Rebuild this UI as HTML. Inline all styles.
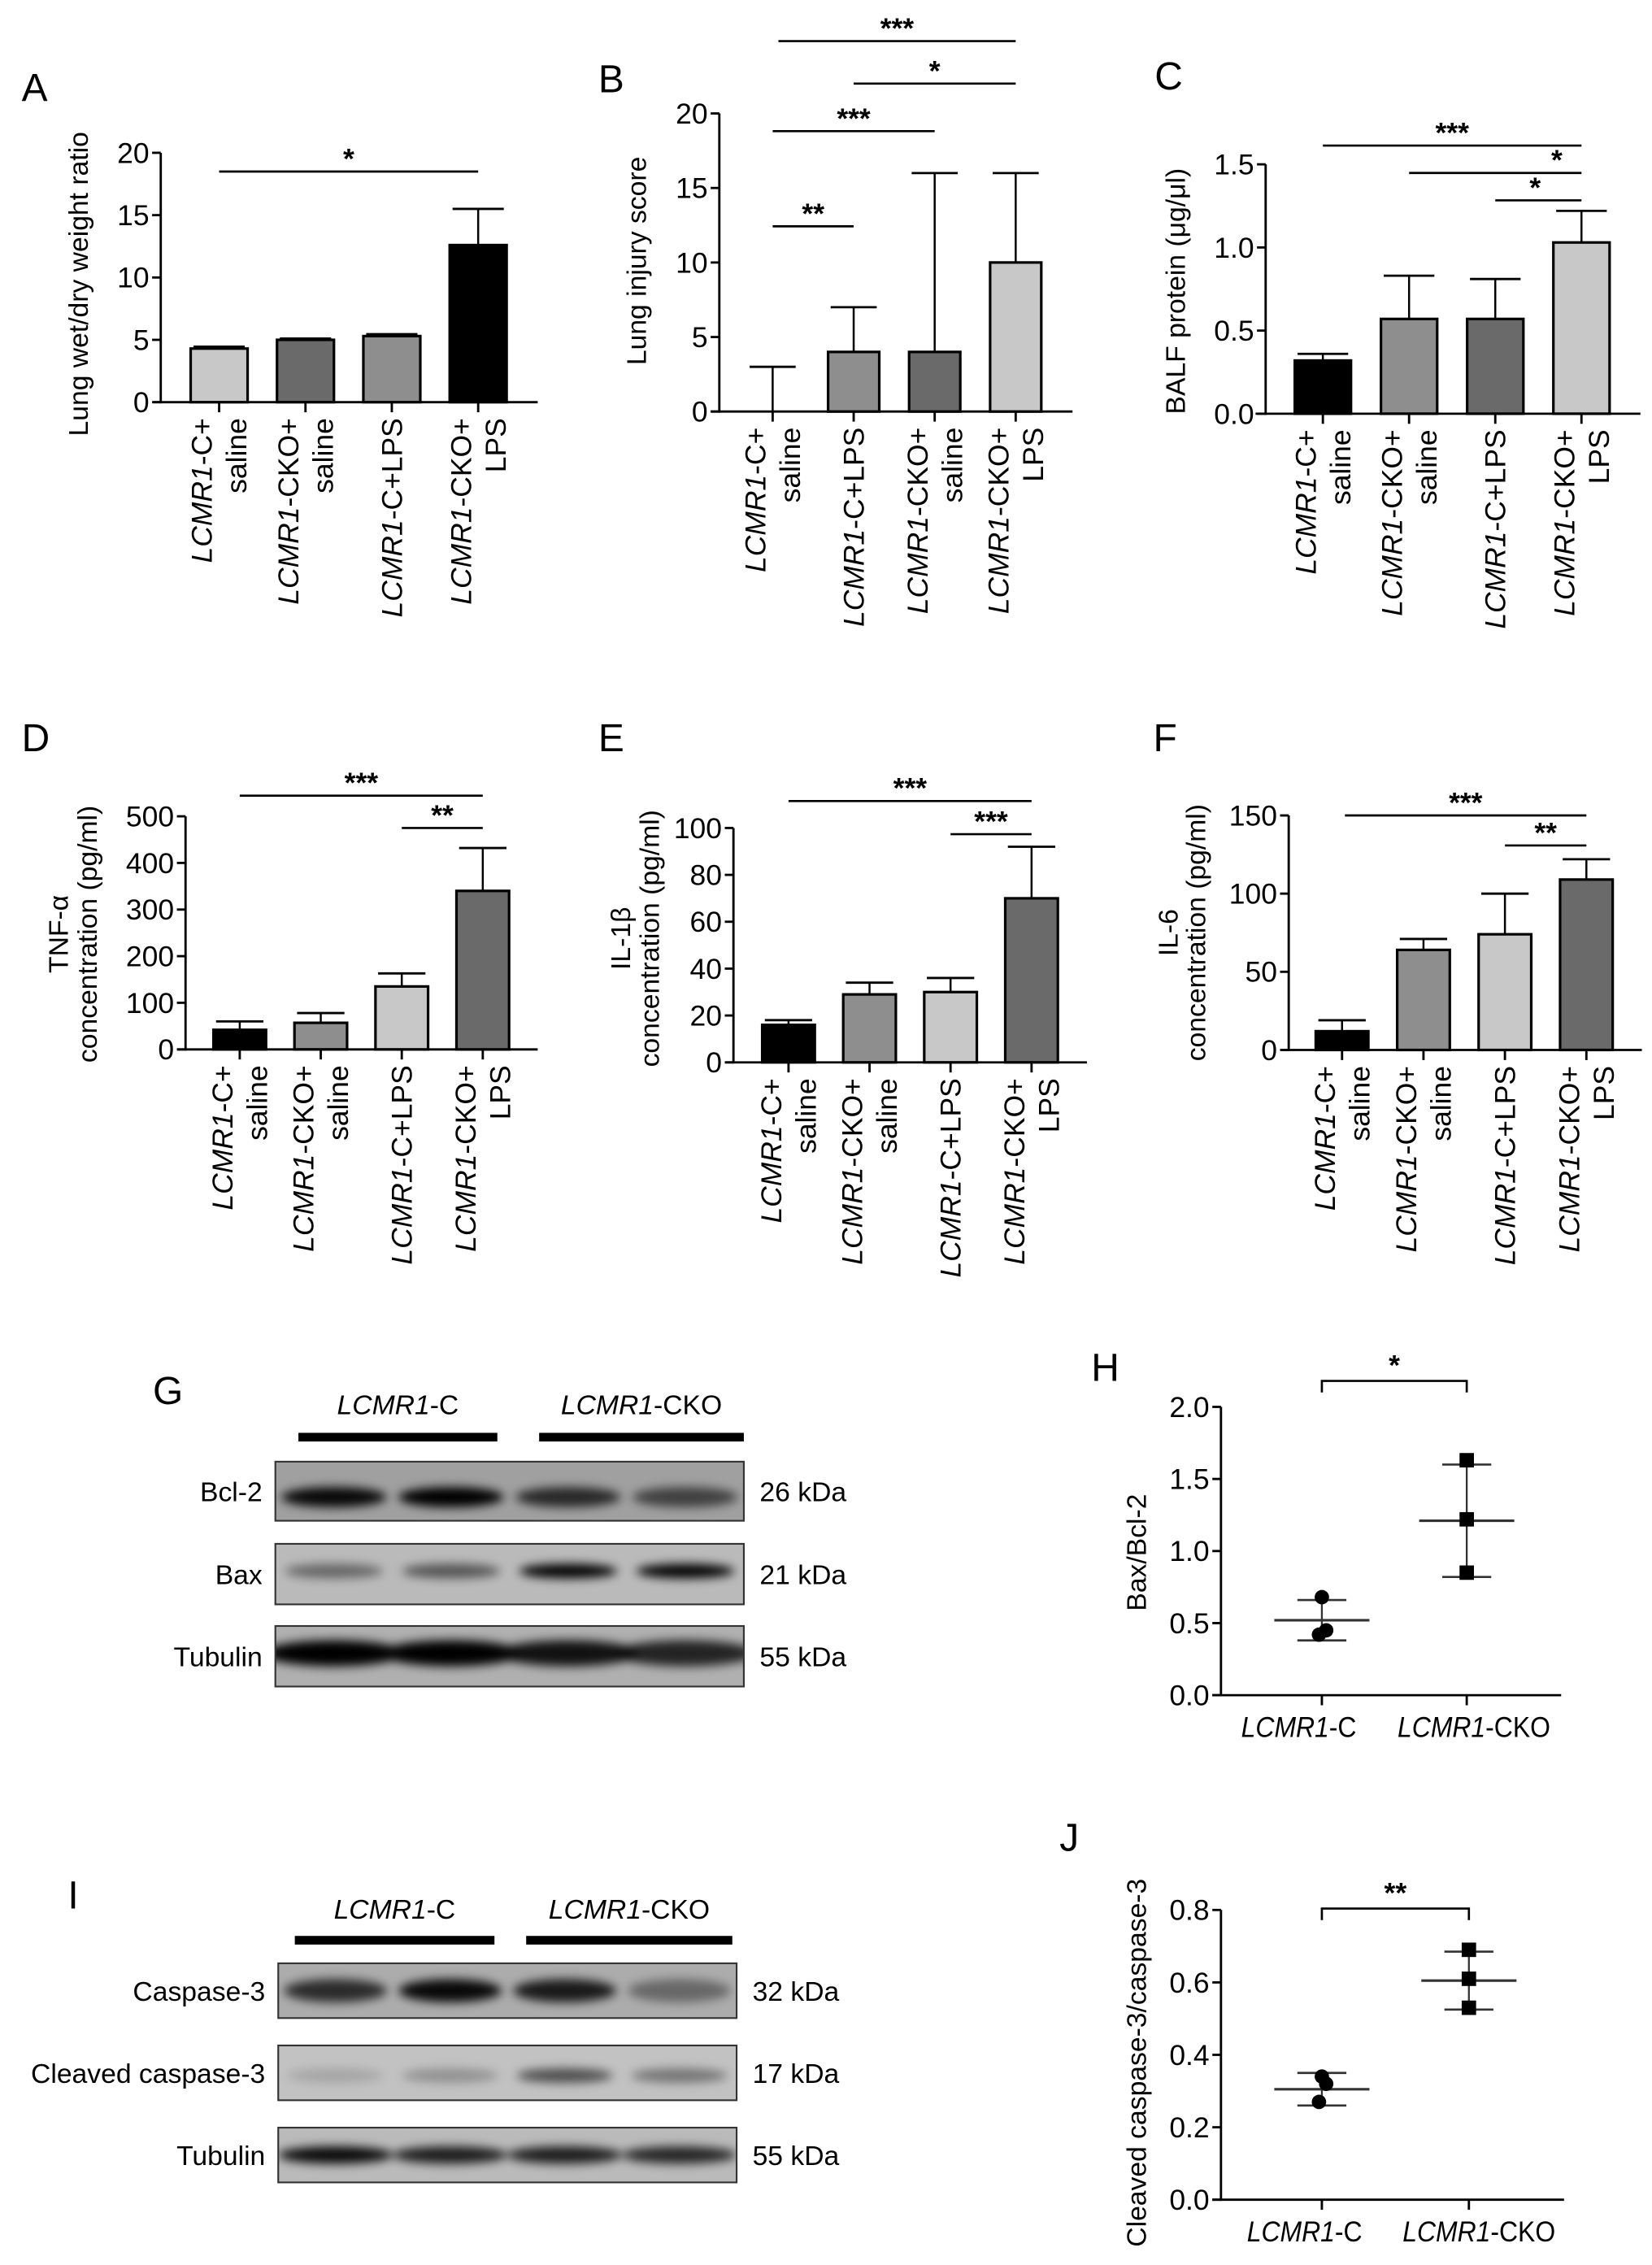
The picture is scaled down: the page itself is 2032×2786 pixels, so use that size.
<!DOCTYPE html>
<html><head><meta charset="utf-8"><style>
html,body{margin:0;padding:0;background:#fff;}
svg{display:block;font-family:"Liberation Sans",Arial,sans-serif;}
</style></head><body>
<svg id="fig" xmlns="http://www.w3.org/2000/svg" width="2032" height="2786" viewBox="0 0 1146 1571.3">
<defs id="defs">
<filter id="blur3" x="-30%" y="-100%" width="160%" height="300%"><feGaussianBlur stdDeviation="3.5"/></filter>
</defs>
<g id="root"></g>
</svg>
<script>
// ---------- data ----------
const catsA = ["C+saline","CKO+saline","C+LPS","CKO+LPS"];
const valsA = [4.3, 5.0, 5.3, 12.6];
const errA  = [4.45, 5.1, 5.45, 15.5];
const ticksA = [0,5,10,15,20];

const catsB = ["C+saline","C+LPS","CKO+saline","CKO+LPS"];
const valsB = [0, 4, 4, 10];
const errB  = [3, 7, 16, 16];
const ticksB = [0,5,10,15,20];

const catsC = ["C+saline","CKO+saline","C+LPS","CKO+LPS"];
const valsC = [0.32, 0.57, 0.57, 1.03];
const errC  = [0.36, 0.83, 0.81, 1.22];
const ticksC = ["0.0","0.5","1.0","1.5"];

const catsD = ["C+saline","CKO+saline","C+LPS","CKO+LPS"];
const valsD = [42, 57, 135, 340];
const errD  = [60, 78, 163, 432];
const ticksD = [0,100,200,300,400,500];

const catsE = ["C+saline","CKO+saline","C+LPS","CKO+LPS"];
const valsE = [16, 29, 30, 70];
const errE  = [18, 34, 36, 92];
const ticksE = [0,20,40,60,80,100];

const catsF = ["C+saline","CKO+saline","C+LPS","CKO+LPS"];
const valsF = [12, 64, 74, 109];
const errF  = [19, 71, 100, 122];
const ticksF = [0,50,100,150];

const groupsH = ["LCMR1-C","LCMR1-CKO"];
const pointsHc = [0.68, 0.45, 0.42];
const pointsHk = [1.63, 1.22, 0.85];
const meanH = [0.52, 1.21];
const sdH = [0.14, 0.39];
const ticksH = ["0.0","0.5","1.0","1.5","2.0"];

const groupsJ = ["LCMR1-C","LCMR1-CKO"];
const pointsJc = [0.34, 0.32, 0.27];
const pointsJk = [0.69, 0.61, 0.53];
const meanJ = [0.305, 0.605];
const sdJ = [0.045, 0.08];
const ticksJ = ["0.0","0.2","0.4","0.6","0.8"];

// ---------- helpers ----------
const NS = "http://www.w3.org/2000/svg";
const root = document.getElementById("root");
const defs = document.getElementById("defs");
const FS = 20, FT = 19;
function el(tag, attrs, parent, text){
  const e = document.createElementNS(NS, tag);
  for (const k in attrs) e.setAttribute(k, attrs[k]);
  if (text !== undefined) e.textContent = text;
  (parent || root).appendChild(e);
  return e;
}
function letter(t, x, y){
  const e = el("text", {x:x, y:y, "font-size":27}, root, t);
  
  
}
const labelMap = {
  "C+saline": [["LCMR1","-C+"],["","saline"]],
  "CKO+saline": [["LCMR1","-CKO+"],["","saline"]],
  "C+LPS": [["LCMR1","-C+LPS"]],
  "CKO+LPS": [["LCMR1","-CKO+"],["","LPS"]]
};

function barChart(o){
  const g = el("g", {});
  
  
  const ymax = o.ymax;
  const yS = v => o.y0 - (v / ymax) * (o.y0 - o.ytop);
  const xS = i => o.x0c + i * o.step;
  const ya = el("line", {x1:o.ax, y1:o.ytop, x2:o.ax, y2:o.y0+0.8, stroke:"#000","stroke-width":1.6}, g);
  
  
  const xa = el("line", {x1:o.xaStart, y1:o.y0, x2:o.xaEnd, y2:o.y0, stroke:"#000","stroke-width":1.6}, g);
  
  
  o.ticks.forEach(t => {
    const y = yS(parseFloat(t));
    el("line", {x1:o.ax-6, y1:y, x2:o.ax, y2:y, stroke:"#000","stroke-width":1.6}, g);
    const tt = el("text", {x:o.ax-8, y:y+7, "font-size":FS, "text-anchor":"end"}, g, String(t));
    
    
  });
  o.title.forEach((line, li) => {
    const tx = o.titleX[li];
    const t = el("text", {x:0, y:0, "font-size":FT, "text-anchor":"middle", transform:`translate(${tx},${o.titleY}) rotate(-90)`}, g);
    t.textContent = line;
    
    
  });
  o.vals.forEach((v, i) => {
    const cx = xS(i), w = o.bw;
    const top = yS(v), et = yS(o.errs[i]);
    const eline = el("line", {x1:cx, y1:et, x2:cx, y2:top, stroke:"#000","stroke-width":1.4}, g);
    
    
    const cap = el("line", {x1:cx-w*0.45, y1:et, x2:cx+w*0.45, y2:et, stroke:"#000","stroke-width":1.6}, g);
    
    
    if (v > 0){
      const r = el("rect", {x:cx-w/2, y:top, width:w, height:o.y0-top, fill:o.colors[i], stroke:"#000","stroke-width":1.8}, g);
      
      
    }
    el("line", {x1:cx, y1:o.y0, x2:cx, y2:o.y0+7, stroke:"#000","stroke-width":1.6}, g);
    const lines = labelMap[o.cats[i]];
    const ty = o.y0 + 11;
    lines.forEach((ln, li) => {
      let bx;
      if (lines.length === 1) bx = cx + 7;
      else bx = li === 0 ? cx - 5 : cx + 19;
      const t = el("text", {x:0, y:0, "font-size":FS, "text-anchor":"end", transform:`translate(${bx},${ty}) rotate(-90)`}, g);
      if (ln[0]) el("tspan", {"font-style":"italic"}, t, ln[0]);
      el("tspan", {}, t, ln[1]);
      
      
    });
  });
  o.sigs.forEach(s => {
    const x1 = s.x1 !== undefined ? s.x1 : xS(s.a);
    const x2 = xS(s.b);
    const l = el("line", {x1:x1, y1:s.y, x2:x2, y2:s.y, stroke:"#000","stroke-width":1.5}, g);
    
    
    const st = el("text", {x:(s.sx !== undefined ? s.sx : (x1+x2)/2), y:s.y-2, "font-size":20, "font-weight":"bold", "text-anchor":"middle"}, g, s.t);
    
    
  });
}

letter("A", 15, 70);
barChart({name:"chart-a", cats:catsA, vals:valsA, errs:errA, ticks:ticksA, ymax:20,
  ax:111.5, y0:279, ytop:106, xaStart:106, xaEnd:373, x0c:152, step:59.9, bw:39.5,
  colors:["#c8c8c8","#6a6a6a","#8e8e8e","#000"],
  title:["Lung wet/dry weight ratio"], titleX:[61], titleY:197,
  sigs:[{a:0,b:3,y:119,t:"*"}]});

letter("B", 415, 64);
barChart({name:"chart-b", cats:catsB, vals:valsB, errs:errB, ticks:ticksB, ymax:20,
  ax:499, y0:285.5, ytop:78.7, xaStart:493, xaEnd:744, x0c:536, step:56.2, bw:35.5,
  colors:["#000","#8e8e8e","#6a6a6a","#c8c8c8"],
  title:["Lung injury score"], titleX:[448], titleY:181,
  sigs:[{a:0,b:3,y:28.5,t:"***",x1:540},{a:1,b:3,y:58,t:"*"},{a:0,b:2,y:91,t:"***"},{a:0,b:1,y:157,t:"**"}]});

letter("C", 801, 62);
barChart({name:"chart-c", cats:catsC, vals:valsC, errs:errC, ticks:ticksC, ymax:1.5,
  ax:878, y0:287, ytop:114, xaStart:871, xaEnd:1138, x0c:917.7, step:59.8, bw:39,
  colors:["#000","#8e8e8e","#6a6a6a","#c8c8c8"],
  title:["BALF protein (μg/μl)"], titleX:[822], titleY:202,
  sigs:[{a:0,b:3,y:101,t:"***"},{a:1,b:3,y:120,t:"*",sx:1080},{a:2,b:3,y:139,t:"*",sx:1065}]});

letter("D", 15, 521);
barChart({name:"chart-d", cats:catsD, vals:valsD, errs:errD, ticks:ticksD, ymax:500,
  ax:128.7, y0:728, ytop:566.3, xaStart:123, xaEnd:373, x0c:166.3, step:56.2, bw:36.5,
  colors:["#000","#8e8e8e","#c8c8c8","#6a6a6a"],
  title:["TNF-α","concentration (pg/ml)"], titleX:[47,67], titleY:648,
  sigs:[{a:0,b:3,y:552,t:"***"},{a:2,b:3,y:574.4,t:"**"}]});

letter("E", 415, 521);
barChart({name:"chart-e", cats:catsE, vals:valsE, errs:errE, ticks:ticksE, ymax:100,
  ax:508.8, y0:737, ytop:574.4, xaStart:503, xaEnd:754, x0c:547, step:56.2, bw:36.5,
  colors:["#000","#8e8e8e","#c8c8c8","#6a6a6a"],
  title:["IL-1β","concentration (pg/ml)"], titleX:[437,457], titleY:651,
  sigs:[{a:0,b:3,y:555.7,t:"***"},{a:2,b:3,y:578.7,t:"***"}]});

letter("F", 800, 521);
barChart({name:"chart-f", cats:catsF, vals:valsF, errs:errF, ticks:ticksF, ymax:150,
  ax:894, y0:728.4, ytop:565.7, xaStart:888, xaEnd:1139, x0c:931, step:56.5, bw:36.5,
  colors:["#000","#8e8e8e","#c8c8c8","#6a6a6a"],
  title:["IL-6","concentration (pg/ml)"], titleX:[817,836], titleY:647,
  sigs:[{a:0,b:3,y:565.7,t:"***",x1:933},{a:2,b:3,y:586.5,t:"**"}]});

// ---------- Western blots ----------
let clipN = 0;
function blot(o){
  const g = el("g", {});
  
  
  o.headers.forEach(h => {
    const t = el("text", {x:(h.x1+h.x2)/2, y:o.headY, "font-size":19, "text-anchor":"middle"}, g);
    el("tspan", {"font-style":"italic"}, t, "LCMR1");
    el("tspan", {}, t, h.suffix);
    
    
    const b = el("rect", {x:h.x1, y:o.barY-3, width:h.x2-h.x1, height:6, fill:"#000"}, g);
    
    
  });
  o.rows.forEach(r => {
    const rg = el("g", {}, g);
    
    
    const cid = "clip" + (clipN++);
    const cp = el("clipPath", {id:cid}, defs);
    el("rect", {x:o.x1, y:r.y1, width:o.x2-o.x1, height:r.y2-r.y1}, cp);
    el("rect", {x:o.x1, y:r.y1, width:o.x2-o.x1, height:r.y2-r.y1, fill:r.bg}, rg);
    const outer = el("g", {"clip-path":`url(#${cid})`}, rg);
    const cg = el("g", {filter:"url(#blur3)"}, outer);
    const lw = (o.x2-o.x1)/4;
    r.bands.forEach((d, i) => {
      if (d <= 0) return;
      const cx = o.x1 + lw*(i+0.5);
      const cy = r.y1 + (r.y2-r.y1)*r.by;
      el("ellipse", {cx:cx, cy:cy, rx:lw*r.rw, ry:r.bh, fill:"#000", opacity:d}, cg);
    });
    el("rect", {x:o.x1, y:r.y1, width:o.x2-o.x1, height:r.y2-r.y1, fill:"none", stroke:"#333","stroke-width":1.2}, rg);
    const lt = el("text", {x:o.x1-9, y:(r.y1+r.y2)/2+7, "font-size":19, "text-anchor":"end"}, rg, r.label);
    
    
    const kt = el("text", {x:o.x2+11, y:(r.y1+r.y2)/2+7, "font-size":19}, rg, r.kda);
    
    
  });
}
letter("G", 106, 974);
blot({name:"western-blot-g", x1:191, x2:516, headY:981, barY:997,
  headers:[{x1:207,x2:345,suffix:"-C"},{x1:374,x2:516,suffix:"-CKO"}],
  rows:[
    {label:"Bcl-2", kda:"26 kDa", y1:1014, y2:1055, bg:"#a0a0a0", by:0.6, bh:7, rw:0.45, bands:[0.95,1,0.75,0.6]},
    {label:"Bax", kda:"21 kDa", y1:1071, y2:1113, bg:"#bababa", by:0.45, bh:5, rw:0.42, bands:[0.45,0.55,1,1]},
    {label:"Tubulin", kda:"55 kDa", y1:1128, y2:1170, bg:"#b0b0b0", by:0.45, bh:9, rw:0.6, bands:[1,1,0.9,0.8]}
  ]});
letter("I", 47, 1324);
blot({name:"western-blot-i", x1:193, x2:511, headY:1331, barY:1346,
  headers:[{x1:204.5,x2:343,suffix:"-C"},{x1:365,x2:508,suffix:"-CKO"}],
  rows:[
    {label:"Caspase-3", kda:"32 kDa", y1:1362, y2:1400, bg:"#acacac", by:0.5, bh:8, rw:0.45, bands:[0.75,0.95,0.85,0.4]},
    {label:"Cleaved caspase-3", kda:"17 kDa", y1:1419, y2:1457, bg:"#c2c2c2", by:0.55, bh:5, rw:0.42, bands:[0.15,0.25,0.6,0.4]},
    {label:"Tubulin", kda:"55 kDa", y1:1476, y2:1514, bg:"#bababa", by:0.5, bh:6, rw:0.5, bands:[0.95,0.85,0.85,0.8]}
  ]});

// ---------- scatter plots ----------
function scatter(o){
  const g = el("g", {});
  
  
  const yS = v => o.y0 - (v / o.ymax) * (o.y0 - o.ytop);
  const xS = i => o.x0c + i * o.step;
  const ya = el("line", {x1:o.ax, y1:o.ytop, x2:o.ax, y2:o.y0+0.8, stroke:"#000","stroke-width":1.6}, g);
  
  
  const xa = el("line", {x1:o.ax-6, y1:o.y0, x2:o.xaEnd, y2:o.y0, stroke:"#000","stroke-width":1.6}, g);
  
  
  o.ticks.forEach(t => {
    const y = yS(parseFloat(t));
    el("line", {x1:o.ax-6, y1:y, x2:o.ax, y2:y, stroke:"#000","stroke-width":1.6}, g);
    const tt = el("text", {x:o.ax-8, y:y+7, "font-size":FS, "text-anchor":"end"}, g, t);
    
    
  });
  const tt = el("text", {x:0, y:0, "font-size":FT, "text-anchor":"middle", transform:`translate(${o.titleX},${o.titleY}) rotate(-90)`}, g, o.title);
  
  
  o.groups.forEach((gname, i) => {
    const cx = xS(i);
    el("line", {x1:cx, y1:o.y0, x2:cx, y2:o.y0+7, stroke:"#000","stroke-width":1.6}, g);
    const lx = cx + o.labelDx[i];
    const xl = el("text", {x:0, y:0, "font-size":FS, "text-anchor":"middle", transform:`translate(${lx},${o.y0+29}) scale(0.9,1)`}, g);
    el("tspan", {"font-style":"italic"}, xl, "LCMR1");
    el("tspan", {}, xl, gname.replace("LCMR1",""));
    
    
    const m = o.means[i], s = o.sds[i];
    const sd = el("line", {x1:cx, y1:yS(m+s), x2:cx, y2:yS(m-s), stroke:"#333","stroke-width":1.3}, g);
    
    
    [m+s, m-s].forEach(v => el("line", {x1:cx-17, y1:yS(v), x2:cx+17, y2:yS(v), stroke:"#333","stroke-width":1.5}, g));
    const ml = el("line", {x1:cx-33, y1:yS(m), x2:cx+33, y2:yS(m), stroke:"#333","stroke-width":1.8}, g);
    
    
    const offs = [0, 3, -2];
    o.points[i].forEach((v, j) => {
      let p;
      if (i === 0) p = el("circle", {cx:cx+offs[j], cy:yS(v), r:5, fill:"#000"}, g);
      else p = el("rect", {x:cx-5, y:yS(v)-5, width:10, height:10, fill:"#000"}, g);
      
      
    });
  });
  const bx1 = xS(0), bx2 = xS(1);
  const br = el("path", {d:`M${bx1},${o.brY+8} V${o.brY} H${bx2} V${o.brY+8}`, fill:"none", stroke:"#000","stroke-width":1.5}, g);
  
  
  const st = el("text", {x:(bx1+bx2)/2, y:o.brY-4, "font-size":20, "font-weight":"bold", "text-anchor":"middle"}, g, o.stars);
  
  
}
letter("H", 757, 958);
scatter({name:"chart-h", groups:groupsH, points:[pointsHc, pointsHk], means:meanH, sds:sdH, ticks:ticksH,
  ymax:2.0, ax:847, y0:1176, ytop:976, xaEnd:1083, x0c:917, step:100.5, labelDx:[-16,5],
  title:"Bax/Bcl-2", titleX:795, titleY:1077, brY:958, stars:"*"});
letter("J", 735, 1284);
scatter({name:"chart-j", groups:groupsJ, points:[pointsJc, pointsJk], means:meanJ, sds:sdJ, ticks:ticksJ,
  ymax:0.8, ax:847, y0:1526, ytop:1325, xaEnd:1085, x0c:917, step:102, labelDx:[-12,7],
  title:"Cleaved caspase-3/caspase-3", titleX:795, titleY:1431, brY:1324, stars:"**"});
</script>
</body></html>
